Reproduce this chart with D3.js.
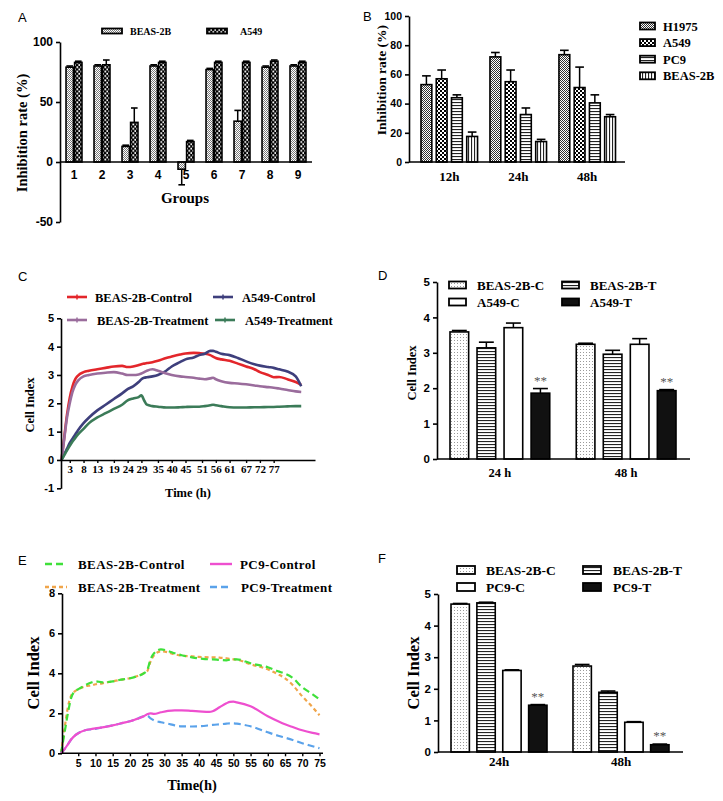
<!DOCTYPE html>
<html><head><meta charset="utf-8">
<script src="https://cdn.jsdelivr.net/npm/d3@7"></script>
<style>body{margin:0;background:#fff;}</style>
</head><body>
<script>
// ---------------- DATA ----------------
// Panel A
const groupsA = ["1","2","3","4","5","6","7","8","9"];
const seriesA = ["BEAS-2B","A549"];
const beasA    = [79, 80, 13, 80, -6, 77, 34, 79, 80];
const beasAErr = [1, 1, 1, 1, 13, 1, 9, 1, 1];
const a549A    = [83, 81, 33, 83, 17, 83, 83, 84, 83];
const a549AErr = [1, 4, 12, 1, 1, 1, 1, 1, 1];
const ticksA = [-50, 0, 50, 100];

// Panel B
const timesB = ["12h","24h","48h"];
const seriesB = ["H1975","A549","PC9","BEAS-2B"];
const h1975B = [53, 72, 73.5],  h1975BErr = [6, 3, 3];
const a549B  = [57, 55, 51],    a549BErr  = [6, 8, 14];
const pc9B   = [44, 32.5, 40.5],pc9BErr   = [2, 4.5, 5.5];
const beasB  = [17.5, 14, 31],  beasBErr  = [3, 1.5, 1.5];
const ticksB = [0, 20, 40, 60, 80, 100];

// Panel C
const seriesC = ["BEAS-2B-Control","A549-Control","BEAS-2B-Treatment","A549-Treatment"];
const hoursC = [0,1,2,3,4,5,6,8,10,13,16,19,22,24,26,28,29,30,31,33,35,38,40,43,45,48,50,52,54,55,56,58,61,64,67,70,72,75,77,79,82,85,87];
const beasCtrlC = [0,0.8,1.6,2.2,2.6,2.85,2.98,3.1,3.15,3.2,3.25,3.3,3.32,3.28,3.3,3.35,3.38,3.4,3.42,3.45,3.5,3.6,3.65,3.72,3.76,3.78,3.77,3.75,3.7,3.65,3.6,3.55,3.5,3.4,3.3,3.2,3.1,3.0,2.92,2.93,2.85,2.75,2.65];
const a549CtrlC = [0,0.2,0.4,0.6,0.75,0.9,1.05,1.3,1.5,1.75,1.95,2.15,2.35,2.5,2.6,2.75,2.85,2.9,2.92,2.95,3.0,3.15,3.3,3.45,3.55,3.62,3.7,3.75,3.85,3.85,3.82,3.75,3.7,3.6,3.48,3.38,3.33,3.28,3.25,3.2,3.12,2.95,2.6];
const beasTrtC  = [0,0.75,1.5,2.0,2.4,2.65,2.8,2.95,3.0,3.05,3.08,3.1,3.05,3.0,3.0,3.02,3.05,3.1,3.15,3.2,3.15,3.05,3.0,2.95,2.93,2.9,2.87,2.85,2.88,2.9,2.85,2.78,2.72,2.7,2.67,2.63,2.6,2.57,2.55,2.52,2.47,2.42,2.4];
const a549TrtC  = [0,0.17,0.34,0.5,0.65,0.78,0.9,1.1,1.3,1.5,1.65,1.8,1.95,2.1,2.17,2.22,2.28,2.1,1.95,1.9,1.88,1.85,1.85,1.86,1.87,1.88,1.88,1.9,1.93,1.95,1.93,1.9,1.86,1.85,1.85,1.86,1.86,1.87,1.87,1.88,1.89,1.9,1.9];
const ticksCx = [3,8,13,19,24,29,35,40,45,51,56,61,67,72,77];
const ticksCy = [-1,0,1,2,3,4,5];

// Panel D
const timesD = ["24 h","48 h"];
const seriesD = ["BEAS-2B-C","BEAS-2B-T","A549-C","A549-T"];
const beasCD = [3.59, 3.24], beasCDErr = [0.04, 0.03];
const beasTD = [3.14, 2.96], beasTDErr = [0.16, 0.11];
const a549CD = [3.71, 3.24], a549CDErr = [0.13, 0.16];
const a549TD = [1.86, 1.93], a549TDErr = [0.13, 0.03];
const ticksD = [0,1,2,3,4,5];

// Panel E
const seriesE = ["BEAS-2B-Control","PC9-Control","BEAS-2B-Treatment","PC9-Treatment"];
const hoursE = [0,1,2,3,4,5,7,9,10,12,15,18,20,22,24,25,26,27,29,31,33,35,38,40,43,44,46,48,49,50,51,55,60,63,65,67,70,73,75];
const beasCtrlE = [0,1.0,2.0,2.8,3.1,3.2,3.4,3.55,3.6,3.55,3.6,3.7,3.75,3.85,4.0,4.15,4.7,5.0,5.2,5.12,5.0,4.9,4.8,4.75,4.7,4.7,4.67,4.65,4.68,4.7,4.7,4.5,4.3,4.1,3.98,3.8,3.3,2.95,2.7];
const beasTrtE  = [0,1.2,2.3,2.9,3.1,3.2,3.35,3.4,3.45,3.5,3.6,3.7,3.75,3.85,4.0,4.1,4.6,4.9,5.1,5.05,4.95,4.88,4.85,4.82,4.8,4.8,4.78,4.75,4.72,4.7,4.68,4.45,4.2,3.95,3.75,3.45,2.85,2.3,1.9];
const pc9CtrlE  = [0,0.2,0.45,0.7,0.88,1.0,1.15,1.22,1.25,1.3,1.4,1.52,1.6,1.72,1.85,1.95,2.0,1.97,2.05,2.12,2.15,2.15,2.12,2.1,2.07,2.1,2.3,2.5,2.57,2.58,2.55,2.35,1.85,1.6,1.45,1.33,1.15,1.02,0.95];
const pc9TrtE   = [0,0.2,0.45,0.7,0.88,1.0,1.15,1.2,1.22,1.3,1.4,1.52,1.6,1.72,1.85,1.88,1.75,1.65,1.55,1.48,1.4,1.35,1.34,1.35,1.4,1.42,1.45,1.48,1.5,1.5,1.48,1.35,1.05,0.88,0.78,0.68,0.5,0.35,0.25];
const ticksEx = [5,10,15,20,25,30,35,40,45,50,55,60,65,70,75];
const ticksEy = [0,2,4,6,8];

// Panel F
const timesF = ["24h","48h"];
const seriesF = ["BEAS-2B-C","BEAS-2B-T","PC9-C","PC9-T"];
const beasCF = [4.68, 2.72], beasCFErr = [0.02, 0.05];
const beasTF = [4.72, 1.89], beasTFErr = [0.02, 0.04];
const pc9CF  = [2.58, 0.94], pc9CFErr  = [0.02, 0.02];
const pc9TF  = [1.48, 0.23], pc9TFErr  = [0.02, 0.02];
const ticksF = [0,1,2,3,4,5];

// ---------------- SETUP ----------------
const SERIF = "'Liberation Serif','Times New Roman',serif";
const SANS = "'Liberation Sans',Arial,sans-serif";
const fmt = d => String(d);
const svg = d3.select("body").append("svg").attr("width",723).attr("height",801);
svg.append("rect").attr("width",723).attr("height",801).attr("fill","#fff");
const defs = svg.append("defs");
function pat(id, w, h, bg, rects) {
  const p = defs.append("pattern").attr("id",id).attr("patternUnits","userSpaceOnUse").attr("width",w).attr("height",h);
  p.append("rect").attr("width",w).attr("height",h).attr("fill",bg);
  rects.forEach(r => p.append("rect").attr("x",r[0]).attr("y",r[1]).attr("width",r[2]).attr("height",r[3]).attr("fill",r[4]));
}
pat("fineA",2,2,"#fff",[[0,0,1,1,"#7a7a7a"],[1,1,1,1,"#7a7a7a"]]);
pat("fineB",2,2,"#fff",[[0,0,1,1,"#333"],[1,1,1,1,"#333"]]);
pat("bigA",4,4.4,"#000",[[0.4,0.3,1.8,1.8,"#fff"],[2.4,2.5,1.8,1.8,"#fff"]]);
pat("bigB",4,4,"#000",[[0,0,2,2,"#fff"],[2,2,2,2,"#fff"]]);
pat("hstripe",3,3,"#fff",[[0,0,3,1.1,"#222"]]);
pat("vstripe",3,3,"#fff",[[0,0,1.1,3,"#222"]]);
pat("dots",3,3,"#fff",[[1,1,1,1,"#9a9a9a"]]);

function txt(x,y,s,opt={}) {
  const t = svg.append("text").attr("x",x).attr("y",y).text(s)
    .attr("font-family",opt.family||SERIF).attr("font-weight",opt.weight||"bold")
    .attr("font-size",opt.size||12).attr("text-anchor",opt.anchor||"start").attr("fill",opt.fill||"#000");
  if (opt.rotate) t.attr("transform",`rotate(${opt.rotate},${x},${y})`);
  if (opt.ls) t.attr("letter-spacing",opt.ls);
  return t;
}
function yAxis(scale, x, ticks, size) {
  const g = svg.append("g").attr("transform",`translate(${x},0)`)
    .call(d3.axisLeft(scale).tickValues(ticks).tickFormat(fmt).tickSize(4).tickSizeOuter(0).tickPadding(3));
  g.select(".domain").attr("stroke","#000").attr("stroke-width",1.6);
  g.selectAll(".tick line").attr("stroke","#000").attr("stroke-width",1.6);
  g.selectAll(".tick text").attr("font-family",SANS).attr("font-weight","bold").attr("font-size",size).attr("fill","#000");
  return g;
}
function hLine(x1,x2,y) {
  svg.append("line").attr("x1",x1).attr("x2",x2).attr("y1",y).attr("y2",y).attr("stroke","#000").attr("stroke-width",1.6);
}
function bars(groups, series, y, gScale, inner, capFrac) {
  const g = svg.append("g");
  series.forEach(s => {
    groups.forEach((grp, gi) => {
      const v = s.values[gi], e = s.errs[gi];
      const x = gScale(grp) + inner(s.name), w = inner.bandwidth();
      const y0 = y(0), y1 = y(v), ye = y(v + (v < 0 ? -e : e)), cx = x + w/2;
      g.append("line").attr("x1",cx).attr("x2",cx).attr("y1",y1).attr("y2",ye).attr("stroke","#000").attr("stroke-width",1.5);
      g.append("line").attr("x1",cx - w*capFrac/2).attr("x2",cx + w*capFrac/2).attr("y1",ye).attr("y2",ye).attr("stroke","#000").attr("stroke-width",1.6);
      g.append("rect").attr("x",x).attr("y",Math.min(y0,y1)).attr("width",w).attr("height",Math.abs(y1-y0))
        .attr("fill",s.fill).attr("stroke","#000").attr("stroke-width",1.6);
    });
  });
}
function swatch(x,y,w,h,fill) {
  svg.append("rect").attr("x",x).attr("y",y-h/2).attr("width",w).attr("height",h).attr("fill",fill).attr("stroke","#000").attr("stroke-width",1.8);
}

// ---------------- PANEL A ----------------
{
  const y = d3.scaleLinear().domain([-50,100]).range([222,42]);
  const gx = d3.scaleBand().domain(groupsA).range([60,312]).paddingInner(0.43).paddingOuter(0.215);
  const inner = d3.scaleBand().domain(seriesA).range([0,gx.bandwidth()]).paddingInner(0.14);
  bars(groupsA, [
    {name:seriesA[0], values:beasA, errs:beasAErr, fill:"url(#fineA)"},
    {name:seriesA[1], values:a549A, errs:a549AErr, fill:"url(#bigA)"}
  ], y, gx, inner, 0.9);
  yAxis(y, 60, ticksA, 12);
  hLine(60, 312, y(0));
  groupsA.forEach(gr => txt(gx(gr)+gx.bandwidth()/2, y(0)+17, gr, {family:SANS, size:12, anchor:"middle"}));
  txt(185, 203, "Groups", {size:15, anchor:"middle"});
  txt(27, 133, "Inhibition rate (%)", {size:14.5, anchor:"middle", rotate:-90});
  txt(18, 22, "A", {family:SANS, weight:"normal", size:13});
  swatch(102, 31, 20, 5, "url(#fineA)");
  txt(130, 35, seriesA[0], {size:10});
  swatch(207, 31, 20, 5, "url(#bigA)");
  txt(240, 35, seriesA[1], {size:10});
}

// ---------------- PANEL B ----------------
{
  const y = d3.scaleLinear().domain([0,100]).range([162,16]);
  const gx = d3.scaleBand().domain(timesB).range([421,615.5]).paddingInner(0.18).paddingOuter(0);
  const inner = d3.scaleBand().domain(seriesB).range([0,gx.bandwidth()]).paddingInner(0.29);
  const fills = ["url(#fineB)","url(#bigB)","url(#hstripe)","url(#vstripe)"];
  bars(timesB, [
    {name:seriesB[0], values:h1975B, errs:h1975BErr, fill:fills[0]},
    {name:seriesB[1], values:a549B, errs:a549BErr, fill:fills[1]},
    {name:seriesB[2], values:pc9B, errs:pc9BErr, fill:fills[2]},
    {name:seriesB[3], values:beasB, errs:beasBErr, fill:fills[3]}
  ], y, gx, inner, 0.8);
  yAxis(y, 409, ticksB, 10.5);
  hLine(409, 625, y(0));
  timesB.forEach(t => txt(gx(t)+gx.bandwidth()/2, 181, t, {size:13, anchor:"middle"}));
  txt(386, 80, "Inhibition rate (%)", {size:13.5, anchor:"middle", rotate:-90});
  txt(363, 21, "B", {family:SANS, weight:"normal", size:13});
  seriesB.forEach((s,i) => {
    swatch(640, 26 + i*16.6, 15, 7, fills[i]);
    txt(663, 30.5 + i*16.6, s, {size:12.5});
  });
}

// ---------------- PANEL C ----------------
{
  const x = d3.scaleLinear().domain([0,92]).range([61.5,315]);
  const y = d3.scaleLinear().domain([-1,5]).range([488.3,318.3]);
  const colors = ["#e3262b","#3e3f7c","#9a6c9c","#3b7b58"];
  const data = [beasCtrlC, a549CtrlC, beasTrtC, a549TrtC];
  const line = d3.line().x(d => x(d[0])).y(d => y(d[1])).curve(d3.curveMonotoneX);
  data.forEach((vals,i) => {
    svg.append("path").datum(hoursC.map((h,j)=>[h, vals[j]])).attr("d",line)
      .attr("fill","none").attr("stroke",colors[i]).attr("stroke-width",2.6).attr("stroke-linejoin","round");
  });
  yAxis(y, 61, ticksCy, 11);
  const gxa = svg.append("g").attr("transform",`translate(0,${y(0)})`)
    .call(d3.axisBottom(x).tickValues(ticksCx).tickFormat(fmt).tickSize(3).tickSizeOuter(0).tickPadding(2));
  gxa.select(".domain").attr("stroke","#000").attr("stroke-width",1.6);
  gxa.selectAll(".tick line").attr("stroke","#000").attr("stroke-width",1.4);
  gxa.selectAll(".tick text").attr("font-family",SERIF).attr("font-weight","bold").attr("font-size",11).attr("fill","#000");
  txt(188, 497, "Time (h)", {size:12.5, anchor:"middle"});
  txt(34, 405, "Cell Index", {size:12.5, anchor:"middle", rotate:-90});
  txt(18, 281, "C", {family:SANS, weight:"normal", size:13});
  const leg = [[67,297,95],[213,297,242],[67,320,97],[215,320,245]];
  seriesC.forEach((s,i) => {
    const [lx,ly,tx] = leg[i];
    svg.append("line").attr("x1",lx).attr("x2",lx+20).attr("y1",ly).attr("y2",ly).attr("stroke",colors[i]).attr("stroke-width",2.6);
    svg.append("line").attr("x1",lx+10).attr("x2",lx+10).attr("y1",ly-2.5).attr("y2",ly+2.5).attr("stroke",colors[i]).attr("stroke-width",1.5);
    txt(tx, ly+4.5, s, {size:12.5});
  });
}

// ---------------- PANEL D ----------------
{
  const y = d3.scaleLinear().domain([0,5]).range([459,282]);
  const gx = d3.scaleBand().domain(timesD).range([450,676]).paddingInner(0.21).paddingOuter(0);
  const inner = d3.scaleBand().domain(seriesD).range([0,gx.bandwidth()]).paddingInner(0.31);
  const fills = ["url(#dots)","url(#hstripe)","#fff","#111"];
  bars(timesD, [
    {name:seriesD[0], values:beasCD, errs:beasCDErr, fill:fills[0]},
    {name:seriesD[1], values:beasTD, errs:beasTDErr, fill:fills[1]},
    {name:seriesD[2], values:a549CD, errs:a549CDErr, fill:fills[2]},
    {name:seriesD[3], values:a549TD, errs:a549TDErr, fill:fills[3]}
  ], y, gx, inner, 0.8);
  yAxis(y, 437, ticksD, 11.5);
  hLine(437, 690, y(0));
  timesD.forEach(t => txt(gx(t)+gx.bandwidth()/2, 477, t, {size:12.5, anchor:"middle"}));
  timesD.forEach((t,i) => txt(gx(t)+inner(seriesD[3])+inner.bandwidth()/2, y(a549TD[i]+a549TDErr[i])-4, "**", {size:13, anchor:"middle", fill:"#555", weight:"normal"}));
  txt(416, 373, "Cell Index", {size:12.5, anchor:"middle", rotate:-90});
  txt(378, 280, "D", {family:SANS, weight:"normal", size:13});
  const leg = [[449,285,477],[562,285,590],[449,302,477],[562,302,590]];
  seriesD.forEach((s,i) => {
    const [sx,sy,tx] = leg[i];
    swatch(sx, sy, 17, 7, fills[i]);
    txt(tx, sy+4.5, s, {size:13});
  });
}

// ---------------- PANEL E ----------------
{
  const x = d3.scaleLinear().domain([0,75]).range([61,319.5]);
  const y = d3.scaleLinear().domain([0,8]).range([753.3,593.3]);
  const colors = ["#3fe03a","#ee4fcf","#f0a54a","#5aa2ea"];
  const dashes = ["7,4", null, "4,3", "7,4"];
  const data = [beasCtrlE, pc9CtrlE, beasTrtE, pc9TrtE];
  const line = d3.line().x(d => x(d[0])).y(d => y(d[1])).curve(d3.curveMonotoneX);
  [2,0,3,1].forEach(i => {
    const p = svg.append("path").datum(hoursE.map((h,j)=>[h, data[i][j]])).attr("d",line)
      .attr("fill","none").attr("stroke",colors[i]).attr("stroke-width",2.2);
    if (dashes[i]) p.attr("stroke-dasharray",dashes[i]);
  });
  yAxis(y, 62, ticksEy, 11);
  const gxa = svg.append("g").attr("transform",`translate(0,${y(0)})`)
    .call(d3.axisBottom(x).tickValues(ticksEx).tickFormat(fmt).tickSize(3).tickSizeOuter(0).tickPadding(3));
  gxa.select(".domain").attr("stroke","#000").attr("stroke-width",1.6).attr("d",`M62,0H323`);
  gxa.selectAll(".tick line").attr("stroke","#000").attr("stroke-width",1.4);
  gxa.selectAll(".tick text").attr("font-family",SANS).attr("font-weight","bold").attr("font-size",10.5).attr("fill","#000");
  txt(192, 790, "Time(h)", {size:14.5, anchor:"middle"});
  txt(39, 673, "Cell Index", {size:16.5, anchor:"middle", rotate:-90});
  txt(18, 565, "E", {family:SANS, weight:"normal", size:13});
  const leg = [[45,564,78],[210,564,240],[45,587,78],[210,587,241]];
  seriesE.forEach((s,i) => {
    const [lx,ly,tx] = leg[i];
    const l = svg.append("line").attr("x1",lx).attr("x2",lx+22).attr("y1",ly).attr("y2",ly).attr("stroke",colors[i]).attr("stroke-width",2.4);
    if (dashes[i]) l.attr("stroke-dasharray", i===2 ? "4,3" : "7,4");
    txt(tx, ly+4.5, s, {size:13, ls:0.4});
  });
}

// ---------------- PANEL F ----------------
{
  const y = d3.scaleLinear().domain([0,5]).range([752,594]);
  const gx = d3.scaleBand().domain(timesF).range([451,669]).paddingInner(0.213).paddingOuter(0);
  const inner = d3.scaleBand().domain(seriesF).range([0,gx.bandwidth()]).paddingInner(0.29);
  const fills = ["url(#dots)","url(#hstripe)","#fff","#111"];
  bars(timesF, [
    {name:seriesF[0], values:beasCF, errs:beasCFErr, fill:fills[0]},
    {name:seriesF[1], values:beasTF, errs:beasTFErr, fill:fills[1]},
    {name:seriesF[2], values:pc9CF, errs:pc9CFErr, fill:fills[2]},
    {name:seriesF[3], values:pc9TF, errs:pc9TFErr, fill:fills[3]}
  ], y, gx, inner, 0.8);
  yAxis(y, 438, ticksF, 11.5);
  hLine(438, 683, y(0));
  timesF.forEach(t => txt(gx(t)+gx.bandwidth()/2, 766, t, {size:13, anchor:"middle"}));
  timesF.forEach((t,i) => txt(gx(t)+inner(seriesF[3])+inner.bandwidth()/2, y(pc9TF[i]+pc9TFErr[i])-4, "**", {size:13, anchor:"middle", fill:"#555", weight:"normal"}));
  txt(419, 673, "Cell Index", {size:16.5, anchor:"middle", rotate:-90});
  txt(378, 563, "F", {family:SANS, weight:"normal", size:13});
  const leg = [[457,570,486],[583,570,613],[457,587,486],[583,587,613]];
  seriesF.forEach((s,i) => {
    const [sx,sy,tx] = leg[i];
    swatch(sx, sy, 18, 8, fills[i]);
    txt(tx, sy+4.5, s, {size:13.5});
  });
}
</script>
</body></html>
